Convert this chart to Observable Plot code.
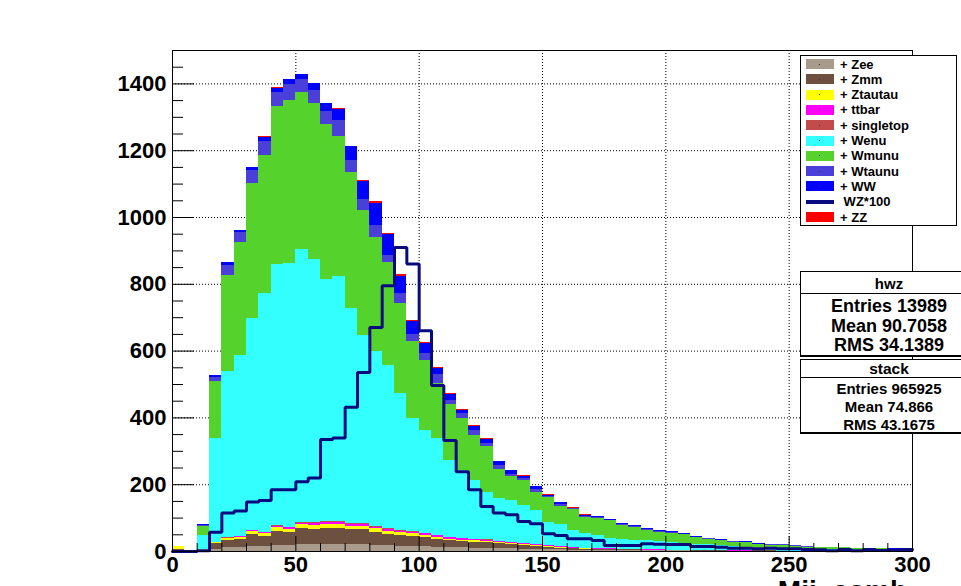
<!DOCTYPE html>
<html>
<head>
<meta charset="utf-8">
<script src="https://cdn.jsdelivr.net/npm/d3@7"></script>
<script src="https://cdn.jsdelivr.net/npm/@observablehq/plot@0.6"></script>
<style>
  html, body { margin: 0; padding: 0; background: #fff; overflow: hidden; }
  #wrap { position: relative; width: 961px; height: 586px; overflow: hidden; background: #fff;
          font-family: "Liberation Sans", Arial, Helvetica, sans-serif; font-weight: bold; color: #000; }
  #chart { position: absolute; left: 0; top: 0; }
  .abs { position: absolute; white-space: pre; }
  .box { position: absolute; background: #fff; border: 1px solid #000; box-sizing: border-box; }
</style>
</head>
<body>
<div id="wrap"><div id="chart"></div></div>
<script>
// ---------------- data ----------------
const binWidth = 5;
const binLow = d3.range(0, 300, binWidth);   // 60 bins of 5 units, 0..300

const seriesNames  = ["Zee", "Zmm", "Ztautau", "ttbar", "singletop", "Wenu", "Wmunu", "Wtaunu", "WW", "ZZ"];
const seriesColors = ["#a89b8b", "#6e5040", "#ffff00", "#ff00ff", "#c24c4c", "#33ffff", "#55d22c", "#4a3fd9", "#0000ff", "#ff0000"];

const Zee = [3,1,2,6,12,12,16,15,18,17, 20,20,22,22,20,20,18,17,16,15, 14,13,12,11,10,10,9,8,7,7, 6,5,4,4,3,3,3,2,2,2, 2,2,1,1,1,1,1,1,1,1, 1,1,1,1,1,1,1,1,0,1];
const Zmm = [2,0,2,17,21,25,34,31,43,40, 48,47,48,48,45,45,40,35,32,31, 28,24,20,19,18,17,14,12,11,9, 6,5,5,3,3,2,2,3,2,2, 1,1,1,1,1,0,0,1,1,0, 0,0,0,0,0,0,0,0,0,0];
const Ztautau = [10,1,1,4,5,6,9,8,11,10, 12,12,12,12,11,11,10,9,8,7, 6,5,5,4,4,3,3,3,2,2, 2,2,1,1,1,1,0,0,0,0, 0,0,0,0,0,0,0,0,0,0, 0,0,0,0,0,0,0,0,0,0];
const ttbar = [0,0,0,1,2,2,3,3,4,4, 4,5,5,5,5,5,5,5,5,5, 5,5,5,5,4,4,4,4,3,3, 3,3,2,2,2,2,2,1,1,1, 1,1,1,1,1,1,1,0,0,0, 0,0,0,0,0,0,0,0,0,0];
const singletop = [0,0,0,0,1,1,1,1,2,2, 2,2,2,2,2,2,2,2,2,2, 2,1,1,1,1,1,1,1,1,1, 1,0,0,0,0,0,0,0,0,0, 0,0,0,0,0,0,0,0,0,0, 0,0,0,0,0,0,0,0,0,0];
const Wenu = [0,0,43,309,497,540,635,713,780,788, 817,787,725,734,646,563,523,488,409,337, 307,289,229,202,175,142,127,125,114,101, 70,65,51,45,39,30,28,27,28,25, 24,21,19,17,14,13,11,8,7,7, 6,5,4,4,3,3,3,2,3,2];
const Wmunu = [0,0,28,172,288,339,405,416,474,488, 471,468,465,421,406,374,342,308,271,231, 209,166,168,155,135,137,89,72,74,54, 73,56,62,48,52,54,43,39,31,28, 27,25,20,17,15,13,14,10,10,11, 9,7,7,6,7,5,5,5,4,5];
const Wtaunu = [0,0,1,11,30,30,37,42,42,50, 38,40,37,45,35,35,35,21,28,23, 22,26,12,15,15,8,10,7,8,8, 4,5,3,3,2,2,2,2,2,2, 2,1,1,1,1,1,1,1,1,1, 1,1,0,1,1,0,0,1,0,1];
const WW = [0,0,3,6,8,7,10,12,13,13, 15,19,24,33,42,52,67,63,53,39, 30,18,18,10,12,13,11,11,6,10, 4,6,2,3,2,2,3,3,2,3, 3,2,2,2,2,2,2,2,1,1, 1,1,1,1,1,1,1,1,1,1];
const ZZ = [0,0,0,0,0,0,0,1,2,2, 2,2,2,4,2,3,5,4,4,3, 3,4,2,2,3,2,2,1,1,1, 1,1,1,1,1,1,0,0,0,0, 0,0,0,0,0,0,0,0,0,0, 0,0,0,0,0,0,0,0,0,0];
const seriesValues = [Zee, Zmm, Ztautau, ttbar, singletop, Wenu, Wmunu, Wtaunu, WW, ZZ];

const WZx100 = [0,0,2,58,115,121,148,153,185,185, 209,220,335,340,432,536,671,796,910,861, 661,497,332,239,185,135,115,110,90,83, 53,48,38,38,33,18,18,18,23,22, 21,21,15,15,13,10,10,8,10,8, 8,6,5,2,6,2,6,3,4,6];
const wzLabel = "WZ*100";
const wzColor = "#0a0a80";

const xLabelTicks = [0, 50, 100, 150, 200, 250, 300];
const xMinorTicks = [10,20,30,40,60,70,80,90,110,120,130,140,160,170,180,190,210,220,230,240,260,270,280,290];
const xGridLines = [50, 100, 150, 200, 250];
const yLabelTicks = [0, 200, 400, 600, 800, 1000, 1200, 1400];
const yMinorTicks = [50,100,150,250,300,350,450,500,550,650,700,750,850,900,950,1050,1100,1150,1250,1300,1350,1450];
const yGridLines = [200, 400, 600, 800, 1000, 1200, 1400];
const xTitle = "Mjj_comb";

const statsHwzTitle = "hwz";
const statsHwz = ["Entries 13989", "Mean 90.7058", "RMS 34.1389"];
const statsStackTitle = "stack";
const statsStack = ["Entries 965925", "Mean 74.866", "RMS 43.1675"];

// ---------------- build tables ----------------
const stackRows = [];
seriesNames.forEach((s, k) => {
  seriesValues[k].forEach((v, i) => {
    stackRows.push({series: s, x1: binLow[i], x2: binLow[i] + binWidth, count: v});
  });
});
const wzPoints = binLow.map((x, i) => ({x, y: WZx100[i]}));
wzPoints.push({x: binLow[binLow.length - 1] + binWidth, y: WZx100[WZx100.length - 1]});

// layout (pixels)
const W = 961, H = 586, mL = 172, mR = 49, mT = 50, mB = 35;
const frameW = W - mL - mR, frameH = H - mT - mB;
const tickStyle = {stroke: "#000", strokeWidth: 1};

const chart = Plot.plot({
  width: W,
  height: H,
  marginLeft: mL,
  marginRight: mR,
  marginTop: mT,
  marginBottom: mB,
  style: {fontFamily: "'Liberation Sans', Arial, Helvetica, sans-serif", fontSize: "22px", fontWeight: "bold", background: "white", color: "black", overflow: "visible"},
  x: {domain: [0, 300], ticks: xLabelTicks, tickSize: 0, tickPadding: 5, label: null, tickFormat: d => String(d)},
  y: {domain: [0, 1500], ticks: yLabelTicks, tickSize: 0, tickPadding: 6, label: null, tickFormat: d => String(d)},
  color: {domain: seriesNames, range: seriesColors},
  marks: [
    Plot.ruleX(xGridLines, {x: d => d, stroke: "#000", strokeWidth: 1, strokeDasharray: "1,2"}),
    Plot.ruleY(yGridLines, {y: d => d, stroke: "#000", strokeWidth: 1, strokeDasharray: "1,2"}),
    Plot.rectY(stackRows, {x1: "x1", x2: "x2", y: "count", fill: "series", shapeRendering: "crispEdges"}),
    Plot.line(wzPoints, {x: "x", y: "y", curve: "step-after", stroke: wzColor, strokeWidth: 3, strokeLinejoin: "miter"}),
    // inward tick marks (rules shortened to tick length with pixel insets)
    Plot.ruleY(yLabelTicks, {y: d => d, insetRight: frameW - 22, ...tickStyle}),
    Plot.ruleY(yMinorTicks, {y: d => d, insetRight: frameW - 11, ...tickStyle}),
    Plot.ruleX(xLabelTicks, {x: d => d, insetTop: frameH - 15, ...tickStyle}),
    Plot.ruleX(xMinorTicks, {x: d => d, insetTop: frameH - 8, ...tickStyle}),
    Plot.frame({stroke: "#000", strokeWidth: 1})
  ]
});
document.getElementById("chart").appendChild(chart);

// ---------------- overlays (legend, stats boxes, axis title) ----------------
const wrap = document.getElementById("wrap");
function addEl(cls, css, text) {
  const el = document.createElement("div");
  el.className = cls;
  el.style.cssText = css;
  if (text != null) el.textContent = text;
  wrap.appendChild(el);
  return el;
}

// legend
addEl("box", "left:800px;top:55px;width:157px;height:171px;");
const legendEntries = [];
seriesNames.forEach((s, k) => {
  legendEntries.push({label: "+ " + s, color: seriesColors[k], line: false});
  if (s === "WW") legendEntries.push({label: " " + wzLabel, color: wzColor, line: true});
});
legendEntries.forEach((e, i) => {
  const yc = 64 + 15.3 * i;
  if (e.line) {
    addEl("abs", `left:806px;top:${(yc - 2).toFixed(1)}px;width:28px;height:4px;background:${e.color};`);
  } else {
    addEl("abs", `left:806px;top:${(yc - 5).toFixed(1)}px;width:28px;height:10px;background:${e.color};`);
    addEl("abs", `left:819px;top:${(yc - 0.5).toFixed(1)}px;width:1px;height:1px;background:#333;`);
  }
  addEl("abs", `left:840px;top:${(yc - 7.5).toFixed(1)}px;font-size:13px;line-height:15px;`, e.label);
});

// stats boxes
function statBox(top, divider, bottom, title, titleSize, titleY, lines, lineSize, lineYs) {
  addEl("box", `left:800px;top:${top}px;width:162px;height:${bottom - top}px;border-bottom-width:2px;`);
  addEl("abs", `left:800px;top:${divider}px;width:162px;height:1px;background:#000;`);
  addEl("abs", `left:800px;top:${titleY - titleSize / 2}px;width:178px;text-align:center;font-size:${titleSize}px;line-height:${titleSize}px;`, title);
  lines.forEach((t, i) => {
    addEl("abs", `left:800px;top:${lineYs[i] - lineSize / 2}px;width:178px;text-align:center;font-size:${lineSize}px;line-height:${lineSize}px;`, t);
  });
}
statBox(271, 293, 357, statsHwzTitle, 15, 283, statsHwz, 18, [305.5, 325.5, 345]);
statBox(359, 377, 434, statsStackTitle, 15.5, 368.5, statsStack, 15, [388.5, 406.5, 424]);

// x-axis title (mostly below the visible area, as in the original)
addEl("abs", "right:54px;top:577px;font-size:28px;line-height:28px;", xTitle);
</script>
</body>
</html>
